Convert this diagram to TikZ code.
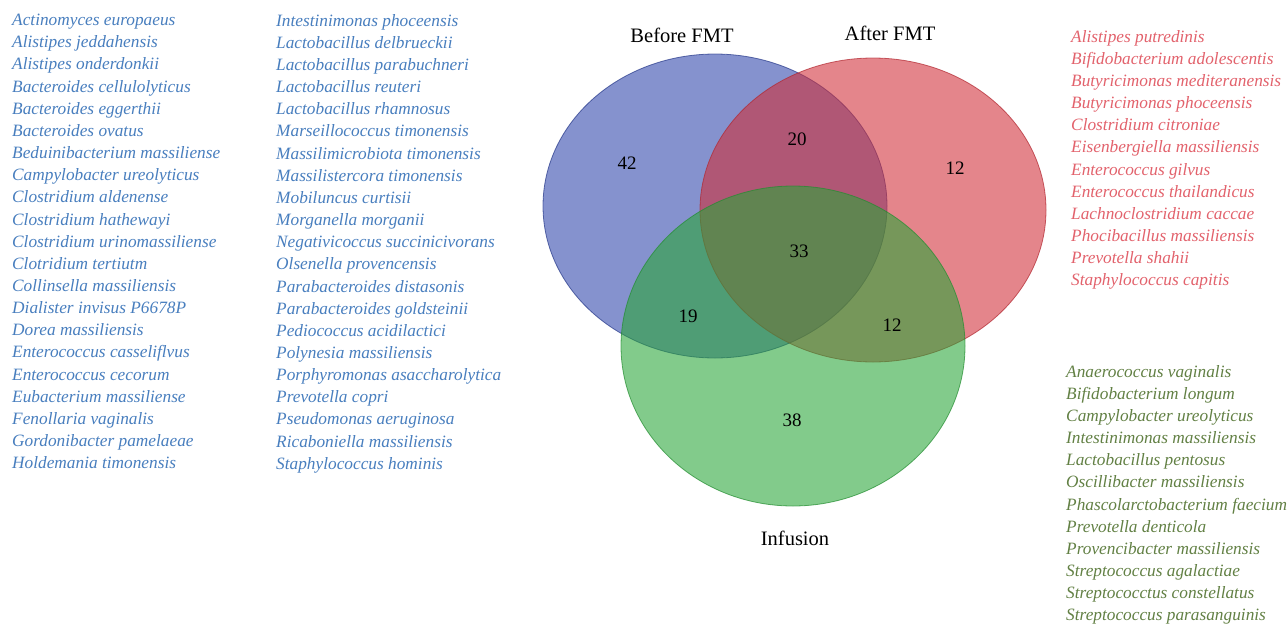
\documentclass[tikz,border=0pt]{standalone}
\usepackage{fontspec}
\setmainfont{Liberation Serif}
\usetikzlibrary{positioning}

\definecolor{bluetext}{RGB}{72,126,190}
\definecolor{redtext}{RGB}{226,98,108}
\definecolor{greentext}{RGB}{98,128,68}
\definecolor{beforefill}{RGB}{45,68,170}
\definecolor{afterfill}{RGB}{208,45,55}
\definecolor{infusefill}{RGB}{40,165,55}

\begin{document}
\begin{tikzpicture}
    [
        x=1pt, y=-1pt,
        species_list/.style={anchor=north west, inner sep=0pt, align=left, font=\fontsize{17.3}{22.15}\selectfont\itshape},
        set_label/.style={inner sep=0pt, font=\fontsize{20.5}{22}\selectfont},
        count_label/.style={inner sep=0pt, font=\fontsize{19}{20}\selectfont},
        venn_set/.style={line width=0.8pt, fill opacity=0.58, draw opacity=0.7},
    ]
        \useasboundingbox (0,0) rectangle (1287,624) ;
        % venn diagram
        \draw[venn_set, draw=beforefill!80!black, fill=beforefill] (715,206) ellipse (172pt and 152pt) ;
        \draw[venn_set, draw=afterfill!85!black, fill=afterfill] (873,210) ellipse (173pt and 152pt) ;
        \draw[venn_set, draw=infusefill!85!black, fill=infusefill] (793,346) ellipse (172pt and 160pt) ;
        \node[set_label] (before) at (682,35) {Before FMT} ;
        \node[set_label] (after) at (890,33) {After FMT} ;
        \node[set_label] (infusion) at (795,538) {Infusion} ;
        \node[count_label] (n_b) at (627,163) {42} ;
        \node[count_label] (n_ba) at (797,139) {20} ;
        \node[count_label] (n_a) at (955,168) {12} ;
        \node[count_label] (n_bai) at (799,251) {33} ;
        \node[count_label] (n_bi) at (688,316) {19} ;
        \node[count_label] (n_ai) at (892,325) {12} ;
        \node[count_label] (n_i) at (792,420) {38} ;
        % species lists
        \node[species_list, text=bluetext] (before_a) at (12,14) {Actinomyces europaeus\\ Alistipes jeddahensis\\ Alistipes onderdonkii\\ Bacteroides cellulolyticus\\ Bacteroides eggerthii\\ Bacteroides ovatus\\ Beduinibacterium massiliense\\ Campylobacter ureolyticus\\ Clostridium aldenense\\ Clostridium hathewayi\\ Clostridium urinomassiliense\\ Clotridium tertiutm\\ Collinsella massiliensis\\ Dialister invisus P6678P\\ Dorea massiliensis\\ Enterococcus casseliflvus\\ Enterococcus cecorum\\ Eubacterium massiliense\\ Fenollaria vaginalis\\ Gordonibacter pamelaeae\\ Holdemania timonensis} ;
        \node[species_list, text=bluetext] (before_b) at (276,14) {Intestinimonas phoceensis\\ Lactobacillus delbrueckii\\ Lactobacillus parabuchneri\\ Lactobacillus reuteri\\ Lactobacillus rhamnosus\\ Marseillococcus timonensis\\ Massilimicrobiota timonensis\\ Massilistercora timonensis\\ Mobiluncus curtisii\\ Morganella morganii\\ Negativicoccus succinicivorans\\ Olsenella provencensis\\ Parabacteroides distasonis\\ Parabacteroides goldsteinii\\ Pediococcus acidilactici\\ Polynesia massiliensis\\ Porphyromonas asaccharolytica\\ Prevotella copri\\ Pseudomonas aeruginosa\\ Ricaboniella massiliensis\\ Staphylococcus hominis} ;
        \node[species_list, text=redtext] (after_list) at (1071,30) {Alistipes putredinis\\ Bifidobacterium adolescentis\\ Butyricimonas mediteranensis\\ Butyricimonas phoceensis\\ Clostridium citroniae\\ Eisenbergiella massiliensis\\ Enterococcus gilvus\\ Enterococcus thailandicus\\ Lachnoclostridium caccae\\ Phocibacillus massiliensis\\ Prevotella shahii\\ Staphylococcus capitis} ;
        \node[species_list, text=greentext] (infusion_list) at (1066,365) {Anaerococcus vaginalis\\ Bifidobacterium longum\\ Campylobacter ureolyticus\\ Intestinimonas massiliensis\\ Lactobacillus pentosus\\ Oscillibacter massiliensis\\ Phascolarctobacterium faecium\\ Prevotella denticola\\ Provencibacter massiliensis\\ Streptococcus agalactiae\\ Streptococctus constellatus\\ Streptococcus parasanguinis} ;
    \end{tikzpicture}
\end{document}
